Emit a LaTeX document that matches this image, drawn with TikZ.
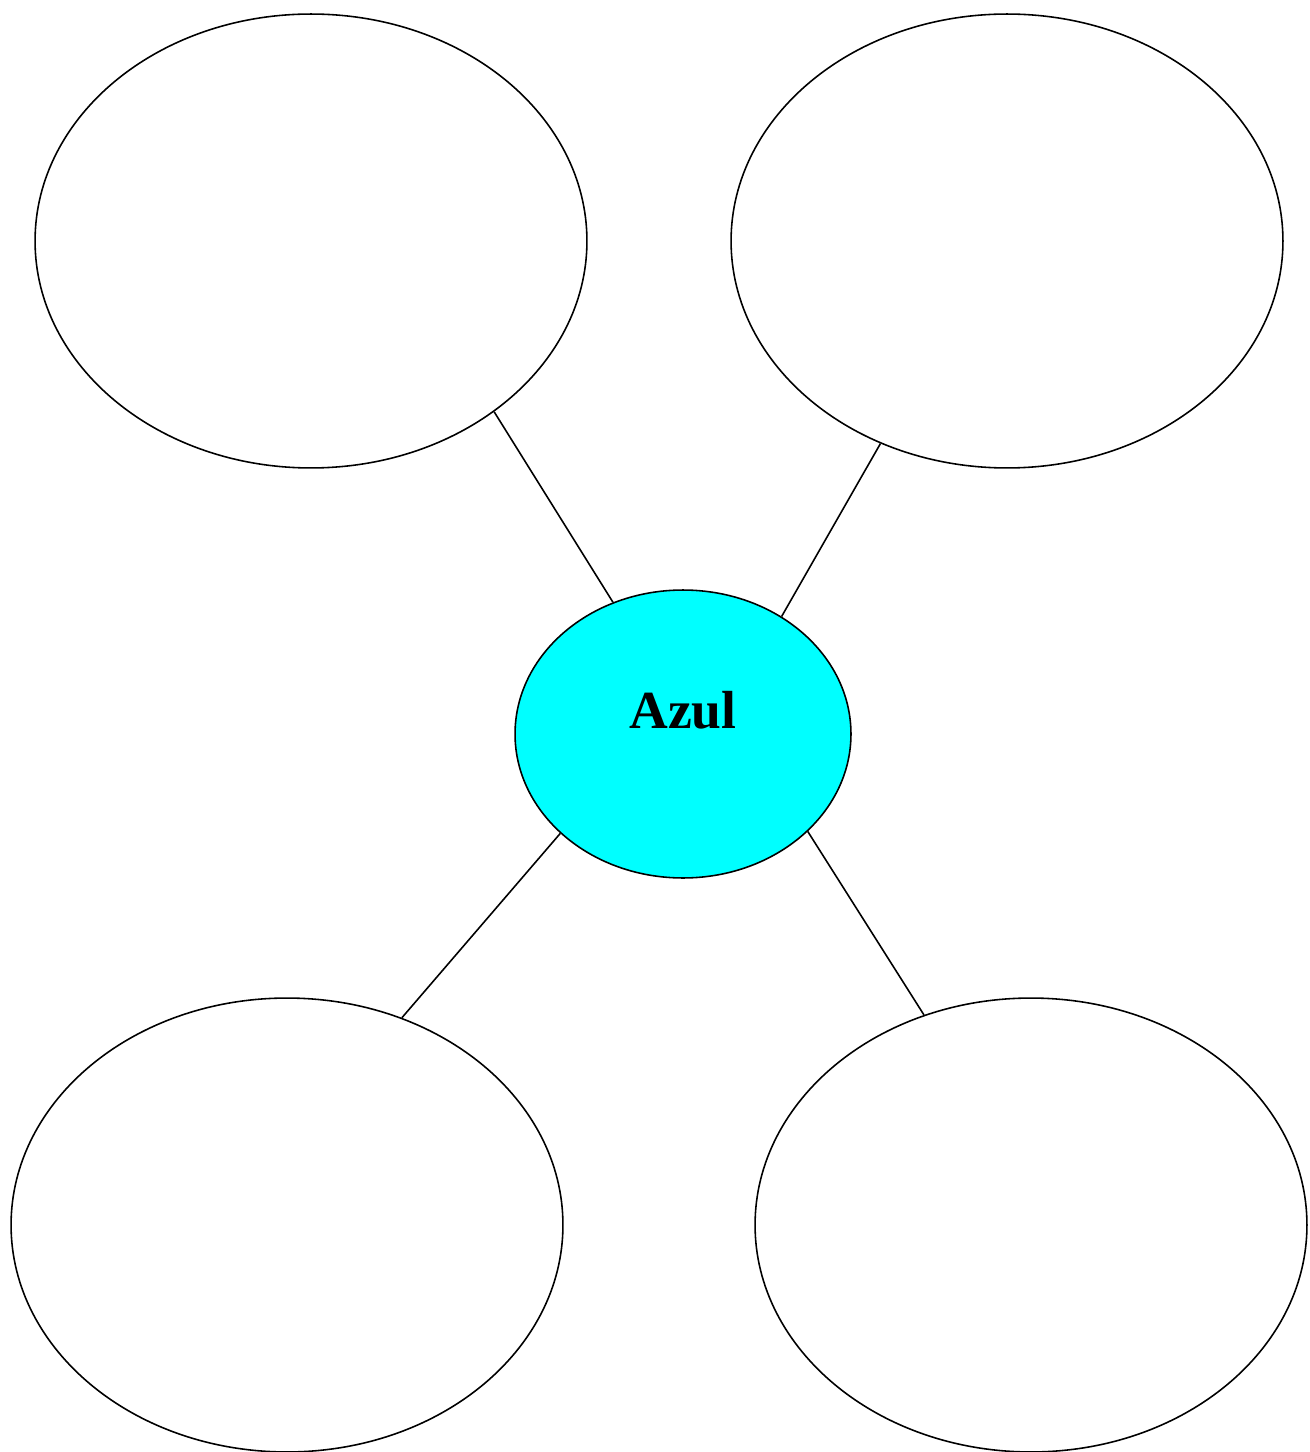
\documentclass[tikz,border=0pt]{standalone}
\usepackage{fontspec}
\setmainfont{Liberation Serif}
\usetikzlibrary{shapes.geometric}
\definecolor{aqua}{RGB}{0,255,255}

\begin{document}
\begin{tikzpicture}[x=0.02cm, y=-0.02cm, line width=0.9pt]
 \useasboundingbox (0,0) rectangle (1310,1452);
 \begin{scope}[every node/.style={ellipse, draw, inner sep=0pt, minimum width=11.04cm, minimum height=9.08cm}]
   \node (tl) at (311,241) {};
   \node (tr) at (1007,241) {};
   \node (bl) at (287,1225) {};
   \node (br) at (1031,1225) {};
   \node (azul) [fill=aqua, minimum width=6.72cm, minimum height=5.76cm,
     label={[draw=none, shape=rectangle, minimum width=0pt, minimum height=0pt, yshift=0.48cm, font=\fontsize{30.5}{36}\selectfont\bfseries]center:Azul}] at (683,734) {};
   \draw (tl.-43) -- (azul.118.6);
   \draw (tr.-122.8) -- (azul.50.9);
   \draw (azul.-141.1) -- (bl.61.5);
   \draw (azul.-38.2) -- (br.117.8);
 \end{scope}
\end{tikzpicture}
\end{document}
